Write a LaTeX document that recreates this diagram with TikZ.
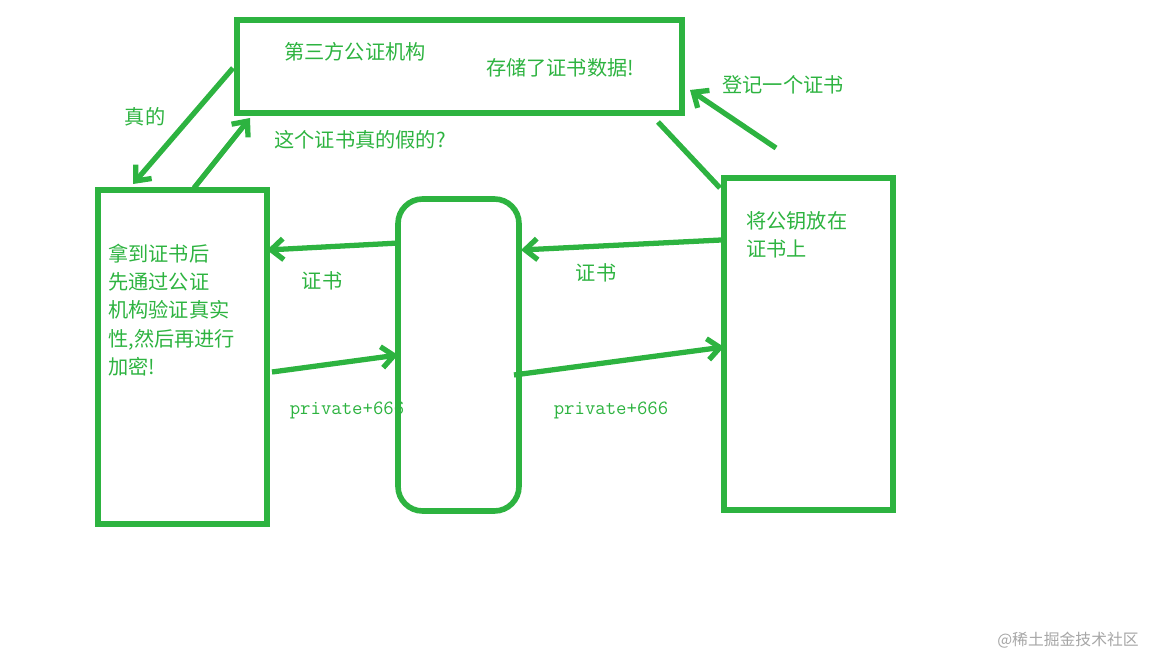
\documentclass[tikz,border=0pt]{standalone}
\usepackage{fontspec}
\newfontfamily\cjk{Noto Sans CJK SC}
\usetikzlibrary{arrows.meta}
\definecolor{gr}{HTML}{2DB340}
\tikzset{box/.style={draw=gr,line width=3.2pt},
 lbl/.style={text=gr,font=\cjk\fontsize{11.5}{16}\selectfont,inner sep=0pt},
 arr/.style={draw=gr,line width=3pt,-{Straight Barb[length=7pt,width=12pt]}},
 ln/.style={draw=gr,line width=3pt}}
\begin{document}
\begin{tikzpicture}[x=0.02cm,y=-0.02cm]
\useasboundingbox (0,0) rectangle (1159,659);
\node[box,minimum width=445*0.02cm,minimum height=93*0.02cm] (top) at (459.5,66.5) {};
\node[box,minimum width=169*0.02cm,minimum height=334*0.02cm] (left) at (182.5,357) {};
\node[box,rounded corners=14pt,minimum width=121*0.02cm,minimum height=312*0.02cm] (mid) at (458.5,355) {};
\node[box,minimum width=169*0.02cm,minimum height=332*0.02cm] (right) at (808.5,344) {};
\node[lbl] (t1) at (355,52) {第三方公证机构};
\node[lbl] (t2) at (560,68) {存储了证书数据!};
\node[lbl,align=left,anchor=north west,text width=160*0.02cm] (t3) at (108,244) {拿到证书后\\先通过公证\\机构验证真实\\性,然后再进行\\加密!};
\node[lbl,align=left,anchor=north west] (t4) at (746,211) {将公钥放在\\证书上};
\node[lbl] (t5) at (322,281) {证书};
\node[lbl] (t6) at (596,273) {证书};
\node[lbl,font=\ttfamily\fontsize{11.5}{14}\selectfont] (t7) at (347,410) {private+666};
\node[lbl,font=\ttfamily\fontsize{11.5}{14}\selectfont] (t8) at (611,410) {private+666};
\node[lbl] (t9) at (145,117) {真的};
\node[lbl] (t10) at (360,140) {这个证书真的假的?};
\node[lbl] (t11) at (783,85) {登记一个证书};
\node[text=gray!70,font=\cjk\fontsize{9}{11}\selectfont] (wm) at (1068,640) {@稀土掘金技术社区};
\coordinate (a1) at (399,243); \coordinate (a2) at (267,250);
\coordinate (b1) at (721,240); \coordinate (b2) at (521,250);
\coordinate (c1) at (272,372); \coordinate (c2) at (398,355);
\coordinate (d1) at (514,375); \coordinate (d2) at (724,347);
\coordinate (e1) at (194,188); \coordinate (e2) at (250,118);
\coordinate (f1) at (233,68); \coordinate (f2) at (133,184);
\coordinate (g1) at (658,122); \coordinate (g2) at (720,188);
\coordinate (h1) at (776,148); \coordinate (h2) at (690,90);
\draw[arr] (a1) -- (a2);
\draw[arr] (b1) -- (b2);
\draw[arr] (c1) -- (c2);
\draw[arr] (d1) -- (d2);
\draw[arr] (e1) -- (e2);
\draw[arr] (f1) -- (f2);
\draw[ln] (g1) -- (g2);
\draw[arr] (h1) -- (h2);
\end{tikzpicture}
\end{document}
